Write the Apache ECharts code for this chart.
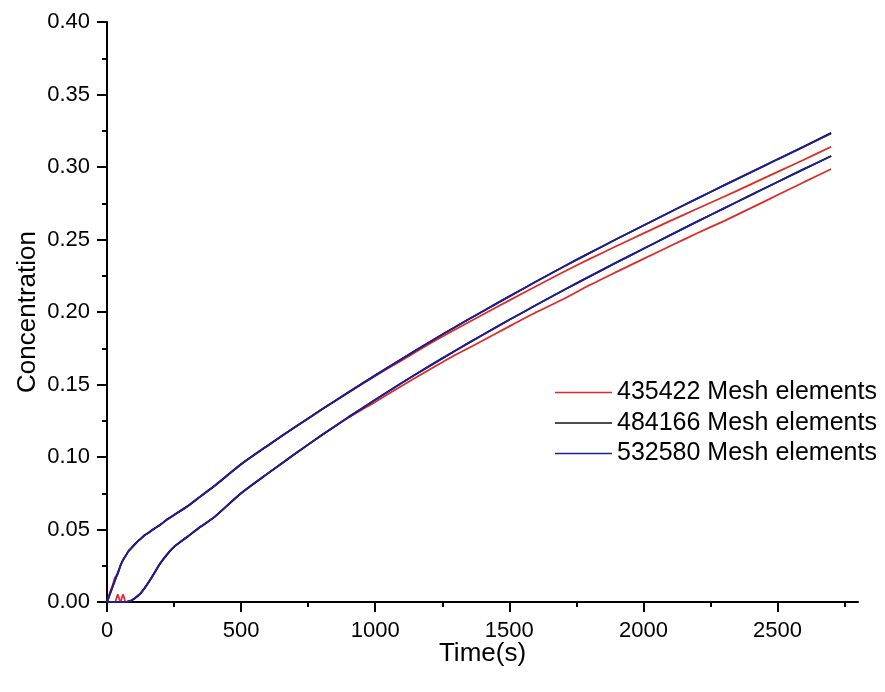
<!DOCTYPE html>
<html>
<head>
<meta charset="utf-8">
<script src="https://cdn.jsdelivr.net/npm/echarts@6/dist/echarts.min.js"></script>
<style>
html,body{margin:0;padding:0;background:#fff;}
#chart{width:885px;height:692px;}
</style>
</head>
<body>
<div id="chart"></div>
<script>
// ---- data ----
const seriesNames = ['435422 Mesh elements', '484166 Mesh elements', '532580 Mesh elements'];
const times = [0,10,20,30,40,50,60,70,80,90,100,110,125,140,160,180,200,225,250,300,350,400,500,600,700,800,900,1000,1100,1200,1300,1400,1500,1600,1700,1800,1900,2000,2100,2200,2300,2400,2500,2600,2700];

const upper532 = [0,0.005,0.010,0.015,0.020,0.025,0.029,0.032,0.035,0.037,0.039,0.041,0.0435,0.046,0.0485,0.051,0.0535,0.057,0.060,0.066,0.073,0.080,0.095,0.108,0.1205,0.1327,0.1446,0.1563,0.1678,0.1790,0.1898,0.2004,0.2108,0.2210,0.2310,0.2408,0.2503,0.2597,0.2690,0.2782,0.2873,0.2963,0.3053,0.3142,0.3231];
const upper484 = [0,0.005,0.010,0.015,0.020,0.025,0.029,0.032,0.035,0.037,0.039,0.041,0.0435,0.046,0.0485,0.051,0.0535,0.057,0.060,0.066,0.073,0.080,0.095,0.108,0.1205,0.1327,0.1446,0.1563,0.1678,0.1790,0.1898,0.2004,0.2108,0.2210,0.2310,0.2408,0.2503,0.2597,0.2690,0.2782,0.2873,0.2963,0.3053,0.3142,0.3236];
const upper435 = [0,0.006,0.011,0.017,0.019,0.025,0.029,0.032,0.035,0.037,0.039,0.041,0.0435,0.046,0.0485,0.051,0.0535,0.057,0.060,0.066,0.073,0.080,0.095,0.108,0.1205,0.1327,0.1444,0.1558,0.1668,0.1778,0.1881,0.1981,0.2080,0.2178,0.2274,0.2366,0.2455,0.2542,0.2628,0.2712,0.2795,0.2880,0.2966,0.3052,0.3140];

const lower532 = [0,0,0,0,0,0,0,0,0.0005,0.001,0.002,0.0035,0.006,0.0095,0.015,0.021,0.027,0.033,0.038,0.045,0.052,0.0585,0.075,0.0887,0.1020,0.1150,0.1275,0.1395,0.1512,0.1625,0.1735,0.1842,0.1946,0.2048,0.2148,0.2246,0.2342,0.2436,0.2530,0.2623,0.2715,0.2806,0.2897,0.2987,0.3076];
const lower484 = [0,0,0,0,0,0,0,0,0.0005,0.001,0.002,0.0035,0.006,0.0095,0.015,0.021,0.027,0.033,0.038,0.045,0.052,0.0585,0.075,0.0887,0.1020,0.1150,0.1275,0.1395,0.1512,0.1625,0.1735,0.1842,0.1946,0.2048,0.2148,0.2246,0.2342,0.2436,0.2530,0.2623,0.2715,0.2806,0.2897,0.2987,0.3076];
const lower435 = [0,0,0,0,0.005,0,0.005,0,0.0005,0.001,0.002,0.0035,0.006,0.0095,0.015,0.021,0.027,0.033,0.038,0.045,0.052,0.0585,0.075,0.0887,0.1020,0.1150,0.1270,0.1380,0.1492,0.1600,0.1705,0.1802,0.1901,0.1998,0.2088,0.2186,0.2277,0.2366,0.2455,0.2543,0.2627,0.2716,0.2807,0.2897,0.2986];

const xMajorTicks = [0,500,1000,1500,2000,2500];
const xMinorTicks = [250,750,1250,1750,2250,2750];

// ---- chart ----
const RED = '#e02a28', BLACK = '#111111', BLUE = '#1e1e9c';
const pairs = (vals) => times.map((t, i) => [t, vals[i]]);

function lineSeries(name, vals, color, z) {
  return {
    name: name, type: 'line', data: pairs(vals), showSymbol: false, symbol: 'none',
    smooth: 0.25,
    xAxisIndex: 0, yAxisIndex: 0, z: z,
    lineStyle: { color: color, width: 1.8 }, itemStyle: { color: color },
    animation: false
  };
}

const chart = echarts.init(document.getElementById('chart'), null, { renderer: 'canvas' });
const font = 'Liberation Sans, Arial, sans-serif';
chart.setOption({
  backgroundColor: '#ffffff',
  animation: false,
  grid: { left: 107, top: 22, right: 27, bottom: 90, containLabel: false },
  legend: {
    data: seriesNames,
    orient: 'vertical', left: 550, top: 375,
    icon: 'rect', itemWidth: 57, itemHeight: 1.5, itemGap: 5.5,
    textStyle: { fontFamily: font, fontSize: 25, color: '#000' },
    selectedMode: false
  },
  xAxis: [{
    type: 'value', min: 0, max: 2800,
    name: 'Time(s)', nameLocation: 'middle', nameGap: 39, nameMoveOverlap: false,
    nameTextStyle: { fontFamily: font, fontSize: 26, color: '#000' },
    axisLine: { show: true, onZero: false, lineStyle: { color: '#000', width: 2 } },
    axisTick: { show: true, inside: false, length: 10, customValues: xMajorTicks, lineStyle: { color: '#000', width: 2 } },
    axisLabel: { customValues: xMajorTicks, margin: 18, fontFamily: font, fontSize: 22, color: '#000', formatter: v => String(v) },
    splitLine: { show: false }
  }, {
    type: 'value', min: 0, max: 2800, position: 'bottom', gridIndex: 0,
    axisLine: { show: false },
    axisTick: { show: true, inside: false, length: 5, customValues: xMinorTicks, lineStyle: { color: '#000', width: 2 } },
    axisLabel: { show: false },
    splitLine: { show: false }
  }],
  yAxis: {
    type: 'value', min: 0, max: 0.4, interval: 0.05,
    name: 'Concentration', nameLocation: 'middle', nameGap: 66, nameRotate: 90, nameMoveOverlap: false,
    nameTextStyle: { fontFamily: font, fontSize: 26, color: '#000' },
    axisLine: { show: true, lineStyle: { color: '#000', width: 2 } },
    axisTick: { show: true, inside: false, length: 10, lineStyle: { color: '#000', width: 2 } },
    minorTick: { show: true, splitNumber: 2, length: 5, lineStyle: { color: '#000', width: 2 } },
    axisLabel: { margin: 17, fontFamily: font, fontSize: 22, color: '#000', formatter: v => v.toFixed(2) },
    splitLine: { show: false }
  },
  series: [
    lineSeries(seriesNames[0], upper435, RED, 2),
    lineSeries(seriesNames[0], lower435, RED, 2),
    lineSeries(seriesNames[1], upper484, BLACK, 3),
    lineSeries(seriesNames[1], lower484, BLACK, 3),
    lineSeries(seriesNames[2], upper532, BLUE, 4),
    lineSeries(seriesNames[2], lower532, BLUE, 4)
  ]
});
</script>
</body>
</html>
